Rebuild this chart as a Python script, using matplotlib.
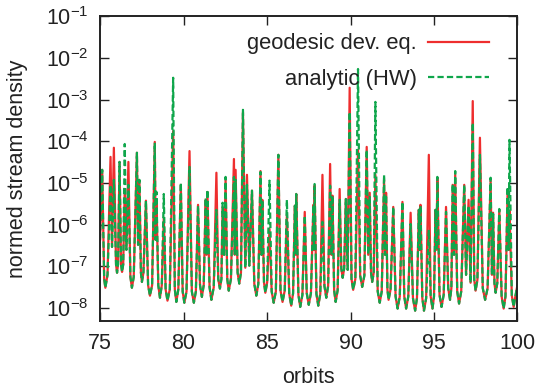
import numpy as np
import matplotlib
matplotlib.use("Agg")
import matplotlib.pyplot as plt
from matplotlib.ticker import LogLocator, NullFormatter

# fonte tipo Helvetica
plt.rcParams['font.family'] = ['Liberation Sans', 'DejaVu Sans']
plt.rcParams['mathtext.fontset'] = 'custom'
plt.rcParams['mathtext.rm'] = 'Liberation Sans'
plt.rcParams['mathtext.it'] = 'Liberation Sans'
plt.rcParams['lines.scale_dashes'] = False

# picos (orbita, log10 densidade)
peak_orbit = [75.13, 75.63, 75.83, 76.17, 76.48, 76.70, 77.21, 77.36, 77.75, 78.28,
              78.38, 78.82, 79.38, 79.84, 80.36, 80.87, 81.33, 81.43, 81.97, 82.34,
              82.52, 83.02, 83.12, 83.56, 83.80, 84.10, 84.61, 84.72, 85.15, 85.68,
              86.19, 86.67, 86.75, 87.26, 87.78, 87.85, 88.32, 88.78, 88.92, 89.35,
              89.72, 89.95, 90.45, 90.97, 91.15, 91.49, 92.01, 92.13, 92.56, 93.11,
              93.60, 94.09, 94.19, 94.69, 95.09, 95.20, 95.72, 96.12, 96.27, 96.81,
              97.07, 97.32, 97.75, 98.39, 98.54, 98.91, 99.41, 99.52]
peak_geo = [-4.68, -4.37, -4.15, -4.49, -5.16, -4.49, -4.27, -4.97, -5.42, -4.01,
            -5.40, -5.83, -3.75, -5.04, -4.23, -5.52, -5.40, -5.21, -4.75, -5.57,
            -4.92, -4.42, -4.68, -3.29, -4.80, -5.18, -4.71, -5.40, -6.10, -4.32,
            -5.76, -5.54, -5.26, -5.69, -5.52, -5.06, -4.80, -4.54, -5.30, -5.14,
            -5.38, -2.71, -4.20, -4.13, -5.23, -4.80, -4.92, -5.23, -5.57, -5.45,
            -5.71, -5.64, -5.52, -4.32, -5.64, -4.87, -5.57, -5.04, -4.80, -5.04,
            -5.40, -3.03, -3.91, -4.92, -5.71, -5.64, -5.16, -5.66]
peak_hw = [-4.68, -5.04, -4.92, -4.49, -4.06, -5.04, -4.27, -4.92, -5.42, -4.03,
           -5.21, -5.26, -2.47, -4.99, -4.61, -5.54, -5.35, -5.16, -5.64, -5.47,
           -4.85, -4.85, -4.92, -3.24, -5.04, -5.18, -4.73, -5.40, -4.94, -4.32,
           -5.40, -5.54, -5.26, -5.78, -5.52, -5.02, -5.93, -5.06, -5.30, -5.40,
           -5.38, -3.29, -2.26, -4.20, -5.33, -3.05, -4.80, -5.28, -5.57, -5.45,
           -5.98, -5.64, -5.54, -6.12, -5.64, -4.85, -5.69, -5.02, -4.71, -5.04,
           -5.54, -3.55, -4.32, -4.87, -5.74, -5.62, -5.09, -3.96]

# vales entre os picos (orbita, log10 densidade)
base_orbit = [75.00, 75.25, 75.32, 75.45, 75.72, 75.96, 76.02, 76.08, 76.26, 76.32,
              76.39, 76.58, 76.82, 76.91, 77.02, 77.28, 77.45, 77.51, 77.60, 77.88,
              77.99, 78.12, 78.33, 78.49, 78.59, 78.70, 78.93, 79.04, 79.18, 79.48,
              79.57, 79.69, 79.95, 80.05, 80.18, 80.50, 80.62, 80.74, 80.99, 81.10,
              81.21, 81.38, 81.56, 81.67, 81.81, 82.08, 82.18, 82.27, 82.43, 82.62,
              82.71, 82.84, 83.07, 83.24, 83.34, 83.44, 83.70, 83.94, 84.24, 84.36,
              84.48, 84.67, 84.82, 84.90, 85.01, 85.28, 85.40, 85.53, 85.81, 85.93,
              86.06, 86.33, 86.45, 86.56, 86.71, 86.88, 86.99, 87.12, 87.38, 87.50,
              87.63, 87.81, 87.96, 88.07, 88.19, 88.44, 88.55, 88.66, 88.86, 89.02,
              89.11, 89.23, 89.45, 89.53, 89.62, 89.83, 90.06, 90.16, 90.29, 90.58,
              90.70, 90.83, 91.06, 91.23, 91.30, 91.39, 91.63, 91.75, 91.87, 92.07,
              92.21, 92.28, 92.40, 92.70, 92.82, 92.95, 93.22, 93.33, 93.46, 93.74,
              93.87, 93.98, 94.14, 94.30, 94.40, 94.53, 94.80, 94.91, 95.00, 95.15,
              95.33, 95.45, 95.58, 95.85, 95.96, 96.04, 96.20, 96.39, 96.50, 96.63,
              96.92, 97.19, 97.41, 97.49, 97.60, 97.92, 98.06, 98.21, 98.47, 98.62,
              98.69, 98.79, 99.05, 99.17, 99.28, 99.47, 99.66, 99.77, 99.88, 100.00]
base_log = [-6.36, -7.30, -7.51, -7.20, -6.53, -6.95, -7.15, -6.95, -6.95, -7.13,
            -6.95, -6.60, -7.25, -7.51, -7.25, -6.48, -7.15, -7.37, -7.15, -7.45,
            -7.70, -7.45, -6.36, -7.45, -7.75, -7.45, -7.55, -7.82, -7.55, -7.55,
            -7.85, -7.55, -7.60, -7.87, -7.60, -7.60, -7.87, -7.60, -7.45, -7.73,
            -7.45, -6.72, -7.50, -7.80, -7.50, -7.30, -7.53, -7.30, -6.72, -7.30,
            -7.58, -7.30, -6.72, -7.15, -7.41, -7.15, -7.03, -6.98, -7.42, -7.70,
            -7.42, -6.72, -7.38, -7.63, -7.38, -7.60, -7.87, -7.60, -7.58, -7.85,
            -7.58, -7.65, -7.94, -7.65, -6.72, -7.68, -7.97, -7.68, -7.64, -7.92,
            -7.64, -6.60, -7.66, -7.94, -7.66, -7.47, -7.75, -7.47, -6.72, -7.57,
            -7.85, -7.57, -7.05, -7.27, -7.05, -7.08, -7.30, -7.56, -7.30, -7.22,
            -7.49, -7.22, -6.72, -7.15, -7.37, -7.15, -7.60, -7.87, -7.60, -6.72,
            -7.55, -7.80, -7.55, -7.72, -8.01, -7.72, -7.72, -8.01, -7.72, -7.76,
            -8.06, -7.76, -6.60, -7.76, -8.06, -7.76, -7.72, -8.01, -7.72, -6.60,
            -7.68, -7.97, -7.68, -7.52, -7.80, -7.52, -6.72, -7.60, -7.89, -7.60,
            -7.20, -7.39, -7.32, -7.58, -7.32, -7.52, -7.80, -7.52, -7.20, -7.40,
            -7.63, -7.40, -7.72, -8.01, -7.72, -6.60, -7.70, -7.97, -7.70, -7.44]

y_ticks = [1e-8, 1e-7, 1e-6, 1e-5, 1e-4, 1e-3, 1e-2, 1e-1]
y_labels = ['$10^{-8}$', '$10^{-7}$', '$10^{-6}$', '$10^{-5}$',
            '$10^{-4}$', '$10^{-3}$', '$10^{-2}$', '$10^{-1}$']
x_ticks = [75, 80, 85, 90, 95, 100]


def montar_curva(picos):
    # junta vales e picos numa unica linha ordenada
    x = np.array(base_orbit + peak_orbit)
    y = np.array(base_log + picos)
    ordem = np.argsort(x, kind='stable')
    return x[ordem], 10.0 ** y[ordem]


fig = plt.figure(figsize=(5.51, 3.89), dpi=100)
ax = fig.add_axes([0.1815, 0.1756, 0.7577, 0.782])

x_geo, y_geo = montar_curva(peak_geo)
x_hw, y_hw = montar_curva(peak_hw)

cor_texto = '#222222'
ax.plot(x_geo, y_geo, color='#ee2e2e', lw=1.6, label='geodesic dev. eq.')
ax.plot(x_hw, y_hw, color='#0fa64b', lw=1.6, dashes=(4.5, 2.3),
        label='analytic (HW)')

ax.set_yscale('log')
ax.set_xlim(75, 100)
ax.set_ylim(5e-9, 1e-1)
ax.set_xticks(x_ticks)
ax.set_yticks(y_ticks)
ax.set_yticklabels(y_labels)
ax.yaxis.set_minor_locator(LogLocator(base=10, subs=np.arange(2, 10)))
ax.yaxis.set_minor_formatter(NullFormatter())

ax.tick_params(which='both', direction='in', top=True, right=True,
               labelsize=15.5, colors=cor_texto)
ax.tick_params(which='major', length=6.5, width=1.0)
ax.tick_params(which='minor', length=3.5, width=1.0)
ax.tick_params(axis='x', pad=9)
ax.tick_params(axis='y', pad=8)
for s in ax.spines.values():
    s.set_linewidth(1.4)
    s.set_color(cor_texto)

ax.set_xlabel('orbits', fontsize=15.5, color=cor_texto, labelpad=9)
ax.set_ylabel('normed stream density', fontsize=15.5, color=cor_texto, labelpad=13)

ax.legend(loc='upper right', bbox_to_anchor=(0.985, 1.017), frameon=False,
          markerfirst=False, fontsize=15.8, handlelength=2.8, handletextpad=0.5,
          labelspacing=0.65, borderaxespad=0.6, labelcolor=cor_texto)

fig.savefig('out.png', dpi=100)
